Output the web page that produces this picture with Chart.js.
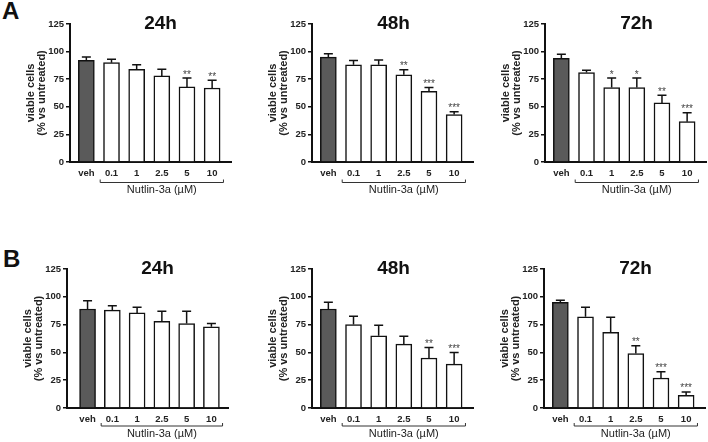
<!DOCTYPE html>
<html>
<head>
<meta charset="utf-8">
<script src="https://cdn.jsdelivr.net/npm/chart.js@4.4.0/dist/chart.umd.min.js"></script>
<style>
  body { margin: 0; width: 708px; height: 442px; background: #fff; position: relative; overflow: hidden;
         font-family: "Liberation Sans", Arial, sans-serif; }
  canvas { position: absolute; }
  .tag { position: absolute; font-weight: bold; font-size: 24px; line-height: 24px; color: #111; }
</style>
</head>
<body>
<div class="tag" style="left:2px;top:-1px">A</div>
<div class="tag" style="left:3px;top:247px">B</div>
<script>
// categories + tick values
const doses = ["veh", "0.1", "1", "2.5", "5", "10"];
const yTicks = [0, 25, 50, 75, 100, 125];

// panel A (means, error = upper SD, significance stars)
const a24Mean = [92, 90, 84, 78, 68, 67];
const a24Err = [3, 3, 4, 6, 8, 7];
const a24Stars = ["", "", "", "", "**", "**"];

const a48Mean = [95, 88, 88, 79, 64, 43];
const a48Err = [3, 4, 4.5, 4.5, 3.5, 2.5];
const a48Stars = ["", "", "", "**", "***", "***"];

const a72Mean = [94, 81, 67.5, 67.5, 53.5, 36.5];
const a72Err = [3.5, 2, 8.5, 8.5, 7, 8];
const a72Stars = ["", "", "*", "*", "**", "***"];

// panel B
const b24Mean = [89, 88, 85.5, 78, 76, 73];
const b24Err = [7.5, 4, 5, 9, 11, 3];
const b24Stars = ["", "", "", "", "", ""];

const b48Mean = [89, 75, 65, 57.5, 45, 39.5];
const b48Err = [6, 7.5, 9.5, 7, 9.5, 10.5];
const b48Stars = ["", "", "", "", "**", "***"];

const b72Mean = [95, 82, 68, 49, 27, 11.5];
const b72Err = [2, 8.5, 13.5, 7, 5.5, 3];
const b72Stars = ["", "", "", "**", "***", "***"];

const FONT = "'Liberation Sans', Arial, sans-serif";
const INK = "#111";

const panels = [
    { title: "24h", mean: a24Mean, err: a24Err, stars: a24Stars, left: 0,   top: 0,   h: 210, padB: 28, xMin: -0.65, xMax: 5.75, titleDx: 10, bracketDy: 20.5, labelDy: 28 },
    { title: "48h", mean: a48Mean, err: a48Err, stars: a48Stars, left: 242, top: 0,   h: 210, padB: 28, xMin: -0.65, xMax: 5.75, titleDx: 1,  bracketDy: 20.5, labelDy: 28 },
    { title: "72h", mean: a72Mean, err: a72Err, stars: a72Stars, left: 475, top: 0,   h: 210, padB: 28, xMin: -0.65, xMax: 5.75, titleDx: 11, bracketDy: 20.5, labelDy: 28 },
    { title: "24h", mean: b24Mean, err: b24Err, stars: b24Stars, left: -3,  top: 245, h: 197, padB: 14, xMin: -0.83, xMax: 5.67, titleDx: 10, bracketDy: 18,   labelDy: 26 },
    { title: "48h", mean: b48Mean, err: b48Err, stars: b48Stars, left: 242, top: 245, h: 197, padB: 14, xMin: -0.65, xMax: 5.75, titleDx: 1,  bracketDy: 18,   labelDy: 26 },
    { title: "72h", mean: b72Mean, err: b72Err, stars: b72Stars, left: 474, top: 245, h: 197, padB: 14, xMin: -0.65, xMax: 5.75, titleDx: 11, bracketDy: 18,   labelDy: 26 }
];

// error bars, stars, title and the Nutlin-3a bracket
const extras = {
    id: "extras",
    afterDatasetsDraw(chart, args, opts) {
        const p = opts.panel;
        const { ctx, chartArea } = chart;
        const xs = chart.scales.x, ys = chart.scales.y;
        ctx.save();

        // upper error bars
        ctx.strokeStyle = INK;
        ctx.lineWidth = 1.5;
        p.mean.forEach((m, i) => {
            const x = xs.getPixelForValue(i);
            const y0 = ys.getPixelForValue(m);
            const y1 = ys.getPixelForValue(m + p.err[i]);
            ctx.beginPath();
            ctx.moveTo(x, y0);
            ctx.lineTo(x, y1);
            ctx.moveTo(x - 4.5, y1);
            ctx.lineTo(x + 4.5, y1);
            ctx.stroke();
        });

        // stars
        ctx.fillStyle = "#444";
        ctx.font = "10px " + FONT;
        ctx.textAlign = "center";
        ctx.textBaseline = "alphabetic";
        p.stars.forEach((s, i) => {
            if (!s) return;
            const x = xs.getPixelForValue(i);
            const y = ys.getPixelForValue(p.mean[i] + p.err[i]);
            ctx.fillText(s, x, y - 0.5);
        });

        // title
        ctx.fillStyle = INK;
        ctx.font = "bold 19px " + FONT;
        ctx.textBaseline = "middle";
        ctx.fillText(p.title, (chartArea.left + chartArea.right) / 2 + p.titleDx, chartArea.top);

        // bracket under the treated doses
        const bx0 = xs.getPixelForValue(0.55);
        const bx1 = xs.getPixelForValue(5.45);
        const by = chartArea.bottom + p.bracketDy;
        ctx.strokeStyle = "#333";
        ctx.lineWidth = 1;
        ctx.beginPath();
        ctx.moveTo(bx0, by - 3);
        ctx.lineTo(bx0, by);
        ctx.lineTo(bx1, by);
        ctx.lineTo(bx1, by - 3);
        ctx.stroke();

        ctx.fillStyle = "#222";
        ctx.font = "11px " + FONT;
        ctx.fillText("Nutlin-3a (\u00b5M)", (bx0 + bx1) / 2, chartArea.bottom + p.labelDy);
        ctx.restore();
    }
};

function makePanel(p) {
    const cv = document.createElement("canvas");
    cv.width = 233;
    cv.height = p.h;
    cv.style.left = p.left + "px";
    cv.style.top = p.top + "px";
    document.body.appendChild(cv);

    new Chart(cv, {
        type: "bar",
        data: {
            datasets: [{
                data: p.mean.map((v, i) => ({ x: i, y: v })),
                backgroundColor: p.mean.map((v, i) => i === 0 ? "#5a5a5a" : "#fff"),
                borderColor: INK,
                borderWidth: 1.5,
                barThickness: 16
            }]
        },
        options: {
            responsive: false,
            animation: false,
            layout: { padding: { left: 25, top: 24, right: 2, bottom: p.padB } },
            plugins: {
                legend: { display: false },
                tooltip: { enabled: false },
                extras: { panel: p }
            },
            scales: {
                x: {
                    type: "linear",
                    offset: false,
                    min: p.xMin,
                    max: p.xMax,
                    afterFit: s => { s.height = 20; },
                    afterBuildTicks: s => { s.ticks = doses.map((d, i) => ({ value: i })); },
                    grid: { display: false, drawTicks: false },
                    border: { display: true, color: INK, width: 2 },
                    ticks: {
                        callback: v => doses[v],
                        autoSkip: false,
                        maxRotation: 0,
                        padding: 6,
                        color: "#222",
                        font: { family: FONT, size: 9.5, weight: "bold" }
                    }
                },
                y: {
                    min: 0,
                    max: 125,
                    afterFit: s => { s.width = 45; },
                    afterBuildTicks: s => { s.ticks = yTicks.map(v => ({ value: v })); },
                    grid: { display: true, drawOnChartArea: false, tickLength: 4, color: INK, lineWidth: 1.5 },
                    border: { display: true, color: INK, width: 2 },
                    ticks: {
                        padding: 2,
                        color: "#222",
                        font: { family: FONT, size: 9.5, weight: "bold" }
                    },
                    title: {
                        display: true,
                        text: ["viable cells", "(% vs untreated)"],
                        color: "#222",
                        padding: 0,
                        font: { family: FONT, size: 11, weight: "bold", lineHeight: 1 }
                    }
                }
            }
        },
        plugins: [extras]
    });
}

panels.forEach(makePanel);
</script>
</body>
</html>
